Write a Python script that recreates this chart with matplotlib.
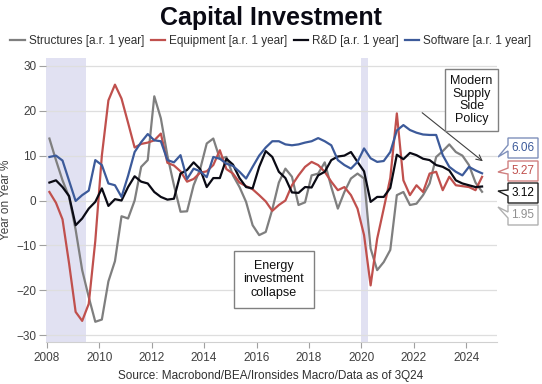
import matplotlib
matplotlib.use("Agg")
import matplotlib.pyplot as plt
from matplotlib.patches import Polygon
import numpy as np
import pandas as pd

plt.rcParams['font.family'] = ['Liberation Sans', 'DejaVu Sans']

# ---------------- data (quarterly, 2008Q1 .. 2024Q3) ----------------
quarters = pd.period_range('2008Q1', '2024Q3', freq='Q')

structures = [13.8, 9.0, 4.5, 0.8, -6.5, -15.5, -21.5, -27.0, -26.5, -18.0,
              -13.5, -3.5, -4.0, 0.0, 7.5, 9.0, 23.2, 18.3, 10.0, 3.4,
              -2.5, -2.4, 3.4, 7.0, 12.7, 13.8, 9.3, 9.7, 5.6, 3.0,
              -0.3, -5.5, -7.7, -7.0, -2.0, 4.0, 7.1, 5.3, -1.0, -0.4,
              5.6, 6.0, 8.5, 3.0, -1.8, 1.9, 4.9, 6.0, 4.9, -10.7,
              -15.5, -13.7, -11.0, 1.2, 1.9, -1.0, -0.7, 1.2, 3.8, 9.7,
              11.0, 12.5, 10.8, 10.0, 7.9, 4.0, 1.95]

equipment = [1.9, -0.5, -4.2, -14.0, -24.8, -26.8, -23.0, -9.0, 10.0, 22.3,
             25.8, 22.7, 17.3, 11.8, 12.6, 12.9, 13.4, 14.9, 8.4, 7.8,
             6.5, 4.2, 4.8, 6.2, 6.5, 7.9, 11.2, 7.0, 6.0, 4.0,
             3.2, 2.5, 1.2, -0.2, -2.3, -1.0, 0.0, 3.4, 5.6, 7.5,
             8.6, 7.9, 6.4, 4.2, 2.3, 3.0, 1.2, -1.8, -7.7, -18.9,
             -8.5, -1.8, 5.0, 19.4, 4.5, 1.2, 3.4, 1.9, 6.0, 6.4,
             2.3, 5.3, 3.4, 3.2, 3.0, 2.3, 5.27]

rnd = [4.0, 4.5, 3.0, 1.0, -5.5, -4.0, -1.8, -0.3, 2.7, -1.2,
       0.3, 0.0, 3.0, 5.4, 4.2, 3.8, 1.9, 0.8, 0.2, 0.4,
       6.0, 6.8, 8.5, 7.0, 3.0, 5.0, 5.0, 9.3, 8.0, 5.0,
       3.0, 2.7, 7.5, 11.0, 9.7, 6.4, 5.0, 1.8, 1.7, 3.0,
       2.9, 5.6, 6.4, 9.0, 9.8, 10.0, 10.8, 8.6, 6.5, -0.3,
       0.8, 0.8, 2.8, 10.2, 9.2, 10.6, 10.1, 9.3, 9.0, 7.9,
       7.5, 6.7, 4.5, 3.8, 3.4, 3.0, 3.12]

software = [9.7, 10.0, 8.9, 4.4, -0.1, 1.2, 2.2, 9.0, 7.9, 3.8,
            3.4, 0.8, 5.5, 10.8, 13.0, 14.8, 13.4, 13.2, 9.0, 8.5,
            10.1, 4.8, 7.1, 6.5, 5.2, 9.7, 9.3, 8.2, 7.7, 6.4,
            4.9, 7.5, 10.0, 11.8, 13.2, 13.2, 12.5, 12.3, 12.5, 12.9,
            13.2, 13.9, 13.2, 12.3, 9.0, 7.9, 7.1, 8.6, 11.6, 9.4,
            8.6, 8.8, 10.8, 15.6, 16.8, 15.7, 15.1, 14.7, 14.6, 14.6,
            10.1, 7.5, 6.4, 5.6, 7.5, 6.7, 6.06]

series_names = ['Structures [a.r. 1 year]', 'Equipment [a.r. 1 year]',
                'R&D [a.r. 1 year]', 'Software [a.r. 1 year]']
series_values = [structures, equipment, rnd, software]
series_colors = ['#7f7f7f', '#c0504d', '#0a0a14', '#3c5a9a']

recessions = [(2007.9, 2009.5), (2020.0, 2020.25)]
xticks = list(range(2008, 2025, 2))
yticks = [-30, -20, -10, 0, 10, 20, 30]

# decimal year at mid-quarter
t = np.array([q.year + (q.quarter - 1) / 4 + 0.1 for q in quarters])

# ---------------- figure ----------------
W, H = 542, 384
fig = plt.figure(figsize=(W / 100, H / 100), dpi=100)
L, R, T, B = 46, 497, 57.7, 342
ax = fig.add_axes([L / W, 1 - B / H, (R - L) / W, (B - T) / H])

for a, b in recessions:
    ax.axvspan(a, b, color='#e1e1f2', lw=0, zorder=0)

lines = []
for name, vals, col in zip(series_names, series_values, series_colors):
    ln, = ax.plot(t, vals, color=col, lw=1.6, label=name, zorder=3)
    lines.append(ln)

ax.set_xlim(2007.97, 2025.17)
ax.set_ylim(-31.5, 31.8)
ax.set_xticks(xticks)
ax.set_yticks(yticks)
ax.yaxis.grid(True, color='#dedede', lw=0.9, zorder=1)
ax.set_axisbelow(True)
for s in ['top', 'right', 'left']:
    ax.spines[s].set_visible(False)
ax.spines['bottom'].set_color('#d0d0d0')
ax.tick_params(axis='y', length=5, color='#a0a0a0', labelsize=8.5, labelcolor='#404040', pad=2)
ax.tick_params(axis='x', length=4, color='#a0a0a0', labelsize=8.5, labelcolor='#404040', pad=3)
ax.set_ylabel('Year on Year %', fontsize=8.5, color='#404040', labelpad=3)

# title, legend, source
fig.text(0.5, 1 - 18 / H, 'Capital Investment', ha='center', va='center',
         fontsize=18, fontweight='bold', color='#0a0a14')
fig.legend(handles=lines, loc='center', bbox_to_anchor=(0.5, 1 - 41 / H), ncol=4,
           frameon=False, fontsize=8.5, handlelength=1.2, handletextpad=0.35,
           columnspacing=0.55, labelcolor='#303030')
fig.text(0.5, 1 - 376 / H, 'Source: Macrobond/BEA/Ironsides Macro/Data as of 3Q24',
         ha='center', va='center', fontsize=8.5, color='#303030')

# annotation boxes
ax.text((274 - L) / (R - L), (B - 279.5) / (B - T), 'Energy\ninvestment\ncollapse',
        transform=ax.transAxes, ha='center', va='center', fontsize=9, color='#101010',
        linespacing=1.15, zorder=5,
        bbox=dict(boxstyle='square,pad=0.75', fc='white', ec='#808080', lw=1))
ax.text((471.5 - L) / (R - L), (B - 100) / (B - T), 'Modern\nSupply\nSide\nPolicy',
        transform=ax.transAxes, ha='center', va='center', fontsize=9, color='#101010',
        linespacing=1.1, zorder=5,
        bbox=dict(boxstyle='square,pad=0.45', fc='white', ec='#808080', lw=1))
ax.annotate('', xy=((485 - L) / (R - L), (B - 163) / (B - T)),
            xytext=((420 - L) / (R - L), (B - 111) / (B - T)),
            xycoords='axes fraction', textcoords='axes fraction',
            arrowprops=dict(arrowstyle='->', color='#404040', lw=0.8, mutation_scale=10))

# last-value callouts
def px(x, y):
    return (x / W, 1 - y / H)

label_y = [215, 171, 193, 148]   # structures, equipment, R&D, software
tip_y = [207, 172, 191, 157]
edge_cols = ['#b0b0b0', '#d08080', '#202020', '#7f90bb']
text_cols = ['#909090', '#c0504d', '#000000', '#3c5a9a']
for vals, yc, ty, ec, tc in zip(series_values, label_y, tip_y, edge_cols, text_cols):
    x0, x1 = 508, 538
    y0, y1 = yc - 10, yc + 10
    pts = [px(x0, y0), px(x1, y0), px(x1, y1), px(x0, y1),
           px(x0, yc + 3), px(498, ty), px(x0, yc - 3)]
    fig.patches.append(Polygon(pts, closed=True, fc='white', ec=ec, lw=1,
                               transform=fig.transFigure, figure=fig))
    fig.text((x0 + x1) / 2 / W, 1 - yc / H, f'{vals[-1]:.2f}', ha='center', va='center',
             fontsize=8.5, color=tc)

fig.savefig('out.png', dpi=100)
